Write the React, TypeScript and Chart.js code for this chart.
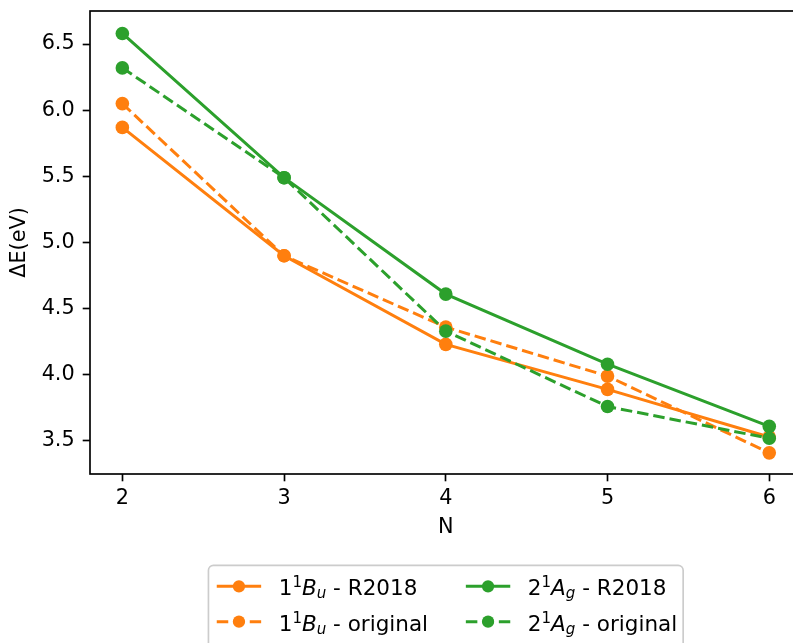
import { useEffect, useRef } from 'react';
import { Chart, registerables } from 'chart.js';

Chart.register(...registerables);

// ---- data ----
const nValues = [2, 3, 4, 5, 6];
const buR2018 = [5.87, 4.9, 4.23, 3.89, 3.53];
const buOriginal = [6.05, 4.9, 4.36, 3.99, 3.41];
const agR2018 = [6.58, 5.49, 4.61, 4.08, 3.61];
const agOriginal = [6.32, 5.49, 4.33, 3.76, 3.52];
const seriesLabels = [
  '$1^1B_u$ - R2018',
  '$1^1B_u$ - original',
  '$2^1A_g$ - R2018',
  '$2^1A_g$ - original',
];
const xTicks = [2, 3, 4, 5, 6];
const yTicks = [3.5, 4.0, 4.5, 5.0, 5.5, 6.0, 6.5];
const xTitle = 'N';
const yTitle = 'ΔE(eV)';

// ---- styles ----
const ORANGE = '#ff7f0e';
const GREEN = '#2ca02c';
const FONT = "'DejaVu Sans', sans-serif";
const FS = 20.8;
const LFS = 21.5;
const LW = 3.0;
const DASH = [11.5, 5];
const PR = 6.8;

type Seg = { t: string; it: boolean; sh: number };

function parseLabel(s: string): Seg[] {
  const segs: Seg[] = [];
  let inMath = false;
  for (let i = 0; i < s.length; i++) {
    const c = s[i];
    if (c === '$') {
      inMath = !inMath;
      continue;
    }
    if (!inMath) {
      segs.push({ t: c, it: false, sh: 0 });
      continue;
    }
    let sh = 0;
    if (c === '^' || c === '_') {
      sh = c === '^' ? 1 : -1;
      i++;
    }
    const ch = s[i];
    segs.push({ t: ch, it: /[A-Za-z]/.test(ch), sh });
  }
  const merged: Seg[] = [];
  for (const sg of segs) {
    const last = merged[merged.length - 1];
    if (last && last.it === sg.it && last.sh === sg.sh) last.t += sg.t;
    else merged.push({ ...sg });
  }
  return merged;
}

function drawRich(ctx: CanvasRenderingContext2D, label: string, x: number, baseline: number, fs: number) {
  let cx = x;
  ctx.textBaseline = 'alphabetic';
  ctx.textAlign = 'left';
  ctx.fillStyle = '#000';
  for (const sg of parseLabel(label)) {
    const size = sg.sh !== 0 ? fs * 0.7 : fs;
    ctx.font = `${sg.it ? 'italic ' : ''}${size}px ${FONT}`;
    const dy = sg.sh > 0 ? -0.37 * fs : sg.sh < 0 ? 0.15 * fs : 0;
    ctx.fillText(sg.t, cx, baseline + dy);
    cx += ctx.measureText(sg.t).width;
  }
}

const spinePlugin = {
  id: 'spines',
  afterDatasetsDraw(chart: any) {
    const { ctx, chartArea } = chart;
    ctx.save();
    ctx.strokeStyle = '#000';
    ctx.lineWidth = 1.67;
    ctx.strokeRect(chartArea.left, chartArea.top, chartArea.right - chartArea.left, chartArea.bottom - chartArea.top);
    ctx.restore();
  },
};

const legendPlugin = {
  id: 'mplLegend',
  afterDraw(chart: any) {
    const { ctx, chartArea } = chart;
    const boxW = 474.7;
    const boxTop = 565.3;
    const boxLeft = (chartArea.left + chartArea.right) / 2 - boxW / 2;
    ctx.save();
    ctx.beginPath();
    ctx.roundRect(boxLeft, boxTop, boxW, 110, 5);
    ctx.fillStyle = 'rgba(255,255,255,0.8)';
    ctx.fill();
    ctx.strokeStyle = '#cccccc';
    ctx.lineWidth = 1.67;
    ctx.stroke();
    const colX = [8.3, 257.4];
    const rowY = [21.0, 56.4];
    const handleLen = 44.4;
    const textPad = 17.6;
    chart.data.datasets.forEach((ds: any, i: number) => {
      const col = Math.floor(i / 2);
      const row = i % 2;
      const x0 = boxLeft + colX[col];
      const y = boxTop + rowY[row];
      ctx.beginPath();
      ctx.setLineDash(ds.borderDash || []);
      ctx.strokeStyle = ds.borderColor;
      ctx.lineWidth = ds.borderWidth;
      ctx.moveTo(x0, y);
      ctx.lineTo(x0 + handleLen, y);
      ctx.stroke();
      ctx.setLineDash([]);
      ctx.beginPath();
      ctx.arc(x0 + handleLen / 2, y, ds.pointRadius * 0.9, 0, Math.PI * 2);
      ctx.fillStyle = ds.pointBackgroundColor;
      ctx.fill();
      drawRich(ctx, ds.label, x0 + handleLen + textPad, y + 8.8, LFS);
    });
    ctx.restore();
  },
};

function makeDataset(label: string, values: number[], color: string, dashed: boolean, order: number) {
  return {
    label,
    data: nValues.map((n, i) => ({ x: n, y: values[i] })),
    borderColor: color,
    backgroundColor: color,
    borderWidth: LW,
    borderDash: dashed ? DASH : [],
    pointRadius: PR,
    pointHoverRadius: PR,
    pointBorderWidth: 0,
    pointBackgroundColor: color,
    pointBorderColor: color,
    tension: 0,
    fill: false,
    order,
  };
}

export default function App() {
  const ref = useRef<HTMLCanvasElement>(null);
  useEffect(() => {
    document.documentElement.style.overflow = 'hidden';
    document.body.style.margin = '0';
    document.body.style.overflow = 'hidden';
    Chart.defaults.font.family = FONT;
    Chart.defaults.color = '#000';
    const gridOpts = {
      display: true,
      drawOnChartArea: false,
      drawTicks: true,
      tickLength: 7.3,
      tickColor: '#000',
      tickWidth: 1.67,
    };
    const chart = new Chart(ref.current as HTMLCanvasElement, {
      type: 'line',
      data: {
        datasets: [
          makeDataset(seriesLabels[0], buR2018, ORANGE, false, 4),
          makeDataset(seriesLabels[1], buOriginal, ORANGE, true, 3),
          makeDataset(seriesLabels[2], agR2018, GREEN, false, 2),
          makeDataset(seriesLabels[3], agOriginal, GREEN, true, 1),
        ] as any,
      },
      options: {
        responsive: false,
        animation: false,
        events: [],
        devicePixelRatio: 1,
        layout: { padding: { top: 11, right: 18.4, bottom: 0, left: 0 } },
        plugins: {
          legend: { display: false },
          tooltip: { enabled: false },
        },
        scales: {
          x: {
            type: 'linear',
            min: 1.8,
            max: 6.2,
            afterBuildTicks: (s: any) => {
              s.ticks = xTicks.map((v) => ({ value: v }));
            },
            afterFit: (s: any) => {
              s.height = 169;
              s.paddingLeft = 0;
              s.paddingRight = 0;
            },
            ticks: {
              color: '#000',
              font: { size: FS, family: FONT },
              padding: 4.5,
              maxRotation: 0,
              autoSkip: false,
              callback: (v: any) => String(v),
            },
            grid: gridOpts,
            border: { display: false },
            title: {
              display: true,
              text: xTitle,
              color: '#000',
              font: { size: FS, family: FONT },
              padding: { top: 0, bottom: 102.5 },
            },
          },
          y: {
            type: 'linear',
            min: 3.25,
            max: 6.75,
            afterBuildTicks: (s: any) => {
              s.ticks = yTicks.map((v) => ({ value: v }));
            },
            afterFit: (s: any) => {
              s.width = 90;
              s.paddingTop = 0;
              s.paddingBottom = 0;
            },
            ticks: {
              color: '#000',
              font: { size: FS, family: FONT },
              padding: 8,
              autoSkip: false,
              callback: (v: any) => Number(v).toFixed(1),
            },
            grid: gridOpts,
            border: { display: false },
            title: {
              display: true,
              text: yTitle,
              color: '#000',
              font: { size: FS, family: FONT },
              padding: { top: 7.5, bottom: 0 },
            },
          },
        },
      } as any,
      plugins: [spinePlugin, legendPlugin],
    });
    return () => chart.destroy();
  }, []);
  return <canvas ref={ref} width={820} height={643} style={{ display: 'block' }} />;
}
